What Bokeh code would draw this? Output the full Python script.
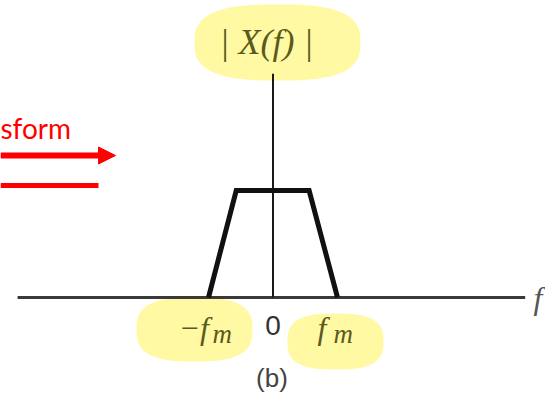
import numpy as np
from bokeh.plotting import figure
from bokeh.models import Range1d, Label, Arrow, NormalHead
from bokeh.embed import file_html
from bokeh.resources import INLINE

# ---- data (frequency in units of f_m, magnitude normalised) ----
freq = [-1.0, -0.57, 0.56, 1.0]
mag = [0.0, 1.0, 1.0, 0.0]
f_axis = [-3.96, 3.91]
mag_axis = [0.0, 2.09]
tick_pos = [-1.0, 0.0, 1.0]
tick_main = ["−f", "0", "f"]
tick_sub = ["m", "", "m"]
title_text = "| X(f) |"
caption = "(b)"
axis_name = "f"
slide_text = "sform"

# pixel <-> data helpers for the annotation layout
X0, SX, Y0, SY = 272.5, 64.5, 297.0, 107.0
def dx(px): return (px - X0) / SX
def dy(py): return (Y0 - py) / SY

W, H = 545, 395
p = figure(width=W, height=H, output_backend="svg", toolbar_location=None,
           x_range=Range1d(dx(0), dx(W)), y_range=Range1d(dy(H), dy(0)),
           x_axis_location=None, y_axis_location=None, min_border=0,
           outline_line_color=None, background_fill_color="white",
           border_fill_color="white")
p.xgrid.visible = False
p.ygrid.visible = False

HL = "#FFF9A3"
def blob(cx, cy, a, b, n=2.8):
    t = np.linspace(0, 2 * np.pi, 90)
    c, s = np.cos(t), np.sin(t)
    x = cx + a * np.sign(c) * np.abs(c) ** (2 / n)
    y = cy + b * np.sign(s) * np.abs(s) ** (2 / n)
    return [dx(v) for v in x], [dy(v) for v in y]

for (cx, cy, a, b) in [(277, 42, 83, 38), (194, 329, 58, 32), (335, 341, 48, 28)]:
    xs, ys = blob(cx, cy, a, b)
    p.patch(xs, ys, fill_color=HL, line_color=None)

# axes
p.line(f_axis, [0, 0], line_color="#3a3a3a", line_width=3)
p.line([0, 0], mag_axis, line_color="#1a1a1a", line_width=2)

# spectrum
p.line(freq, mag, line_color="#111111", line_width=5, line_join="miter")

# red slide decorations
p.add_layout(Arrow(x_start=dx(0), y_start=dy(155), x_end=dx(115), y_end=dy(155),
                   line_color="#ff0000", line_width=6,
                   end=NormalHead(size=17, fill_color="#ff0000", line_color="#ff0000", line_width=1)))
p.segment(x0=[dx(0)], y0=[dy(185)], x1=[dx(98)], y1=[dy(185)], line_color="#ff0000", line_width=5)
p.add_layout(Label(x=dx(0), y=dy(127), text=slide_text, text_align="left",
                   text_baseline="middle", text_font="Lato", text_font_size="28px",
                   text_color="#ff0000"))

OL = "#5b5a1e"
p.add_layout(Label(x=dx(266), y=dy(41), text=title_text, text_align="center",
                   text_baseline="middle", text_font="Liberation Serif",
                   text_font_style="italic", text_font_size="36px", text_color=OL))

# tick labels
for pos, main, sub in zip(tick_pos, tick_main, tick_sub):
    px = X0 + pos * SX
    if sub:
        off = -30 if pos < 0 else -20
        p.add_layout(Label(x=dx(px + off), y=dy(327), text=main, text_align="left",
                           text_baseline="middle", text_font="Liberation Serif",
                           text_font_style="italic", text_font_size="32px", text_color=OL))
        p.add_layout(Label(x=dx(px + off + (34 if pos < 0 else 16)), y=dy(333), text=sub,
                           text_align="left", text_baseline="middle",
                           text_font="Liberation Serif", text_font_style="italic",
                           text_font_size="27px", text_color=OL))
    else:
        p.add_layout(Label(x=pos, y=dy(325), text=main, text_align="center",
                           text_baseline="middle", text_font="Liberation Sans",
                           text_font_size="28px", text_color="#333333"))

p.add_layout(Label(x=dx(271.5), y=dy(377), text=caption, text_align="center",
                   text_baseline="middle", text_font="Liberation Sans",
                   text_font_size="26px", text_color="#444444"))
p.add_layout(Label(x=dx(533), y=dy(297), text=axis_name, text_align="left",
                   text_baseline="middle", text_font="Liberation Serif",
                   text_font_style="italic", text_font_size="32px", text_color="#555555"))

open("out.html", "w").write(file_html(p, INLINE))
